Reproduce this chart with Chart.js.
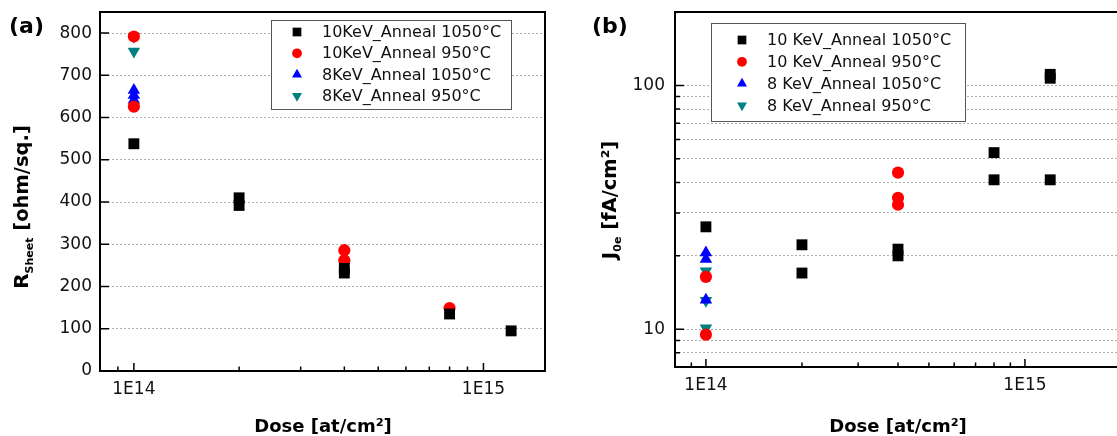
<!DOCTYPE html>
<html>
<head>
<meta charset="utf-8">
<script src="https://cdn.jsdelivr.net/npm/chart.js@4.4.1/dist/chart.umd.min.js"></script>
<style>
    html, body { margin: 0; padding: 0; background: #fff; overflow: hidden; width: 1117px; height: 436px; }
    #wrap-a { position: absolute; left: 0; top: 0; width: 560px; height: 436px; }
    #wrap-b { position: absolute; left: 560px; top: 0; width: 570px; height: 436px; }
</style>
</head>
<body>
<div id="wrap-a"><canvas id="chart-a"></canvas></div>
<div id="wrap-b"><canvas id="chart-b"></canvas></div>
<script>
// Series names (legend text)
const namesA = ['10KeV_Anneal 1050°C', '10KeV_Anneal 950°C', '8KeV_Anneal 1050°C', '8KeV_Anneal 950°C'];
const namesB = ['10 KeV_Anneal 1050°C', '10 KeV_Anneal 950°C', '8 KeV_Anneal 1050°C', '8 KeV_Anneal 950°C'];

// (a) sheet resistance [ohm/sq.] vs dose [at/cm2]
const rsDose10k1050 = [1e14, 2e14, 2e14, 4e14, 4e14, 8e14, 1.2e15];
const rs10k1050 = [538, 410, 392, 243, 232, 135, 95];
const rsDose10k950 = [1e14, 1e14, 4e14, 4e14, 8e14];
const rs10k950 = [792, 626, 286, 262, 149];
const rsDose8k1050 = [1e14, 1e14, 1e14];
const rs8k1050 = [665, 653, 642];
const rsDose8k950 = [1e14, 1e14];
const rs8k950 = [792, 757];

// (b) J0e [fA/cm2] vs dose [at/cm2]
const jDose10k1050 = [1e14, 2e14, 2e14, 4e14, 4e14, 8e14, 8e14, 1.2e15, 1.2e15, 1.2e15];
const j10k1050 = [26.3, 22.2, 17.0, 21.3, 20.0, 53, 41, 111, 107, 41];
const jDose10k950 = [1e14, 1e14, 4e14, 4e14, 4e14];
const j10k950 = [16.4, 9.5, 43.9, 34.6, 32.4];
const jDose8k1050 = [1e14, 1e14, 1e14];
const j8k1050 = [20.6, 19.4, 13.2];
const jDose8k950 = [1e14, 1e14, 1e14];
const j8k950 = [17.3, 13.1, 10.1];

// Tick values
const doseTicksA = [8e13, 9e13, 1e14, 2e14, 3e14, 4e14, 5e14, 6e14, 7e14, 8e14, 9e14, 1e15];
const doseTicksB = [8e13, 9e13, 1e14, 2e14, 3e14, 4e14, 5e14, 6e14, 7e14, 8e14, 9e14, 1e15, 2e15];
const doseLabels = { 1e14: '1E14', 1e15: '1E15' };
const jTicks = [7, 8, 9, 10, 20, 30, 40, 50, 60, 70, 80, 90, 100, 200];
const jLabels = { 10: '10', 100: '100' };

const styles = [
    { color: '#000000', pointStyle: 'rect', radius: 7.7, rotation: 0 },
    { color: '#ff0000', pointStyle: 'circle', radius: 6.1, rotation: 0 },
    { color: '#0000ff', pointStyle: 'triangle', radius: 7.2, rotation: 0 },
    { color: '#008080', pointStyle: 'triangle', radius: 7.2, rotation: 180 }
];

Chart.defaults.font.family = 'DejaVu Sans';
Chart.defaults.font.size = 17;
Chart.defaults.color = '#111';

function makeDatasets(names, xs, ys) {
    return names.map((name, i) => ({
        label: name,
        data: xs[i].map((x, k) => ({ x, y: ys[i][k] })),
        pointStyle: styles[i].pointStyle,
        pointRotation: styles[i].rotation,
        pointRadius: styles[i].radius,
        pointBackgroundColor: styles[i].color,
        pointBorderWidth: 0,
        showLine: false
    }));
}

function matchLabel(map, v) {
    for (const k of Object.keys(map)) {
        if (Math.abs(v / Number(k) - 1) < 1e-6) return map[k];
    }
    return '';
}

// draw text made of parts with different fonts (for subscripts)
function drawParts(ctx, parts, x, y, rotate) {
    ctx.save();
    ctx.translate(x, y);
    if (rotate) ctx.rotate(-Math.PI / 2);
    let total = 0;
    parts.forEach(p => { ctx.font = p.font; p.w = ctx.measureText(p.text).width; total += p.w; });
    let cx = -total / 2;
    ctx.textBaseline = 'alphabetic';
    ctx.textAlign = 'left';
    parts.forEach(p => {
        ctx.font = p.font;
        ctx.fillText(p.text, cx, p.dy || 0);
        cx += p.w;
    });
    ctx.restore();
}

function framePlugin(cfg) {
    return {
        id: 'frame',
        afterDraw(chart) {
            const { ctx, chartArea: a, scales: { x, y } } = chart;
            ctx.save();
            // inward tick marks
            ctx.strokeStyle = '#000';
            ctx.lineWidth = 1.5;
            ctx.beginPath();
            x.ticks.forEach(t => {
                const px = x.getPixelForValue(t.value);
                if (px < a.left - 0.5 || px > a.right + 0.5) return;
                const len = matchLabel(doseLabels, t.value) ? 8 : 4.5;
                ctx.moveTo(px, a.bottom);
                ctx.lineTo(px, a.bottom - len);
            });
            y.ticks.forEach(t => {
                const py = y.getPixelForValue(t.value);
                const len = cfg.yMajor(t.value) ? 9 : 5;
                ctx.moveTo(a.left, py);
                ctx.lineTo(a.left + len, py);
            });
            ctx.stroke();

            ctx.lineWidth = 2;
            ctx.strokeRect(a.left, a.top, a.right - a.left, a.bottom - a.top);

            // legend
            const lg = cfg.legend;
            ctx.lineWidth = 1;
            ctx.strokeStyle = '#555';
            ctx.fillStyle = '#fff';
            ctx.fillRect(lg.x, lg.y, lg.w, lg.h);
            ctx.strokeRect(lg.x + 0.5, lg.y + 0.5, lg.w, lg.h);
            ctx.font = '16px "DejaVu Sans"';
            ctx.textBaseline = 'middle';
            chart.data.datasets.forEach((ds, i) => {
                const ry = lg.rowY + i * lg.rowH;
                ctx.fillStyle = ds.pointBackgroundColor;
                Chart.helpers.drawPoint(ctx, {
                    pointStyle: ds.pointStyle, rotation: ds.pointRotation,
                    radius: ds.pointRadius * 0.8, borderWidth: 0
                }, lg.markX, ry);
                ctx.fillStyle = '#111';
                ctx.fillText(ds.label, lg.textX, ry + 1);
            });

            // panel letter and axis titles
            ctx.fillStyle = '#000';
            ctx.textBaseline = 'alphabetic';
            ctx.font = 'bold 22px "DejaVu Sans"';
            ctx.fillText(cfg.letter, cfg.letterX, 33);
            drawParts(ctx, [{ text: 'Dose [at/cm²]', font: 'bold 18px "DejaVu Sans"' }], cfg.xTitleX, 432, false);
            drawParts(ctx, cfg.yTitle, cfg.yTitleX, cfg.yTitleY, true);
            ctx.restore();
        }
    };
}

// fixed axis sizes; drop the label overhang so the plot top follows layout padding
function fixWidth(w) { return s => { s.width = w; s.paddingTop = 0; s.paddingBottom = 0; }; }
function fixHeight(h) { return s => { s.height = h; }; }

const gridColor = '#b0b0b0';

// Panel (a)
new Chart(document.getElementById('chart-a'), {
    type: 'scatter',
    data: {
        datasets: makeDatasets(namesA,
            [rsDose10k1050, rsDose10k950, rsDose8k1050, rsDose8k950],
            [rs10k1050, rs10k950, rs8k1050, rs8k950])
    },
    options: {
        responsive: true,
        maintainAspectRatio: false,
        animation: false,
        devicePixelRatio: 1,
        layout: { padding: { left: 0, right: 15, top: 12, bottom: 0 } },
        plugins: { legend: { display: false }, tooltip: { enabled: false } },
        scales: {
            x: {
                type: 'logarithmic',
                min: 8e13,
                max: 1.5e15,
                afterBuildTicks: s => { s.ticks = doseTicksA.map(v => ({ value: v })); },
                afterFit: fixHeight(65),
                grid: { display: false, drawTicks: false },
                border: { display: false },
                ticks: { autoSkip: false, maxRotation: 0, padding: 8, callback: v => matchLabel(doseLabels, v) }
            },
            y: {
                type: 'linear',
                min: 0,
                max: 850,
                afterFit: fixWidth(100),
                grid: {
                    drawTicks: false,
                    lineWidth: 1,
                    color: c => (c.tick && c.tick.value % 100 === 0 && c.tick.value > 0 && c.tick.value < 850) ? gridColor : 'transparent'
                },
                border: { display: false, dash: [2, 2] },
                ticks: { stepSize: 50, padding: 8, callback: v => (v % 100 === 0 ? String(v) : '') }
            }
        }
    },
    plugins: [framePlugin({
        letter: '(a)', letterX: 9,
        xTitleX: 323,
        yTitleX: 28, yTitleY: 207,
        yTitle: [
            { text: 'R', font: 'bold 20px "DejaVu Sans"' },
            { text: 'Sheet', font: 'bold 11px "DejaVu Sans"', dy: 5 },
            { text: ' [ohm/sq.]', font: 'bold 19.5px "DejaVu Sans"' }
        ],
        yMajor: v => v % 100 === 0,
        legend: { x: 271, y: 20, w: 240, h: 89, rowY: 32, rowH: 21.3, markX: 297, textX: 322 }
    })]
});

// Panel (b)
new Chart(document.getElementById('chart-b'), {
    type: 'scatter',
    data: {
        datasets: makeDatasets(namesB,
            [jDose10k1050, jDose10k950, jDose8k1050, jDose8k950],
            [j10k1050, j10k950, j8k1050, j8k950])
    },
    options: {
        responsive: true,
        maintainAspectRatio: false,
        animation: false,
        devicePixelRatio: 1,
        layout: { padding: { left: 0, right: 9, top: 12, bottom: 0 } },
        plugins: { legend: { display: false }, tooltip: { enabled: false } },
        scales: {
            x: {
                type: 'logarithmic',
                min: 8e13,
                max: 2e15,
                afterBuildTicks: s => { s.ticks = doseTicksB.map(v => ({ value: v })); },
                afterFit: fixHeight(69),
                grid: { display: false, drawTicks: false },
                border: { display: false },
                ticks: { autoSkip: false, maxRotation: 0, padding: 8, callback: v => matchLabel(doseLabels, v) }
            },
            y: {
                type: 'logarithmic',
                min: 7,
                max: 200,
                afterBuildTicks: s => { s.ticks = jTicks.map(v => ({ value: v })); },
                afterFit: fixWidth(115),
                grid: {
                    drawTicks: false,
                    lineWidth: 1,
                    color: c => (c.tick && c.tick.value > 7 && c.tick.value < 200) ? gridColor : 'transparent'
                },
                border: { display: false, dash: [2, 2] },
                ticks: { autoSkip: false, padding: 10, callback: v => matchLabel(jLabels, v) }
            }
        }
    },
    plugins: [framePlugin({
        letter: '(b)', letterX: 32,
        xTitleX: 338,
        yTitleX: 56, yTitleY: 200,
        yTitle: [
            { text: 'J', font: 'bold 20px "DejaVu Sans"' },
            { text: '0e', font: 'bold 11px "DejaVu Sans"', dy: 5 },
            { text: ' [fA/cm²]', font: 'bold 19.5px "DejaVu Sans"' }
        ],
        yMajor: v => v === 10 || v === 100,
        legend: { x: 151, y: 23, w: 254, h: 98, rowY: 40, rowH: 21.8, markX: 182, textX: 207 }
    })]
});
</script>
</body>
</html>
